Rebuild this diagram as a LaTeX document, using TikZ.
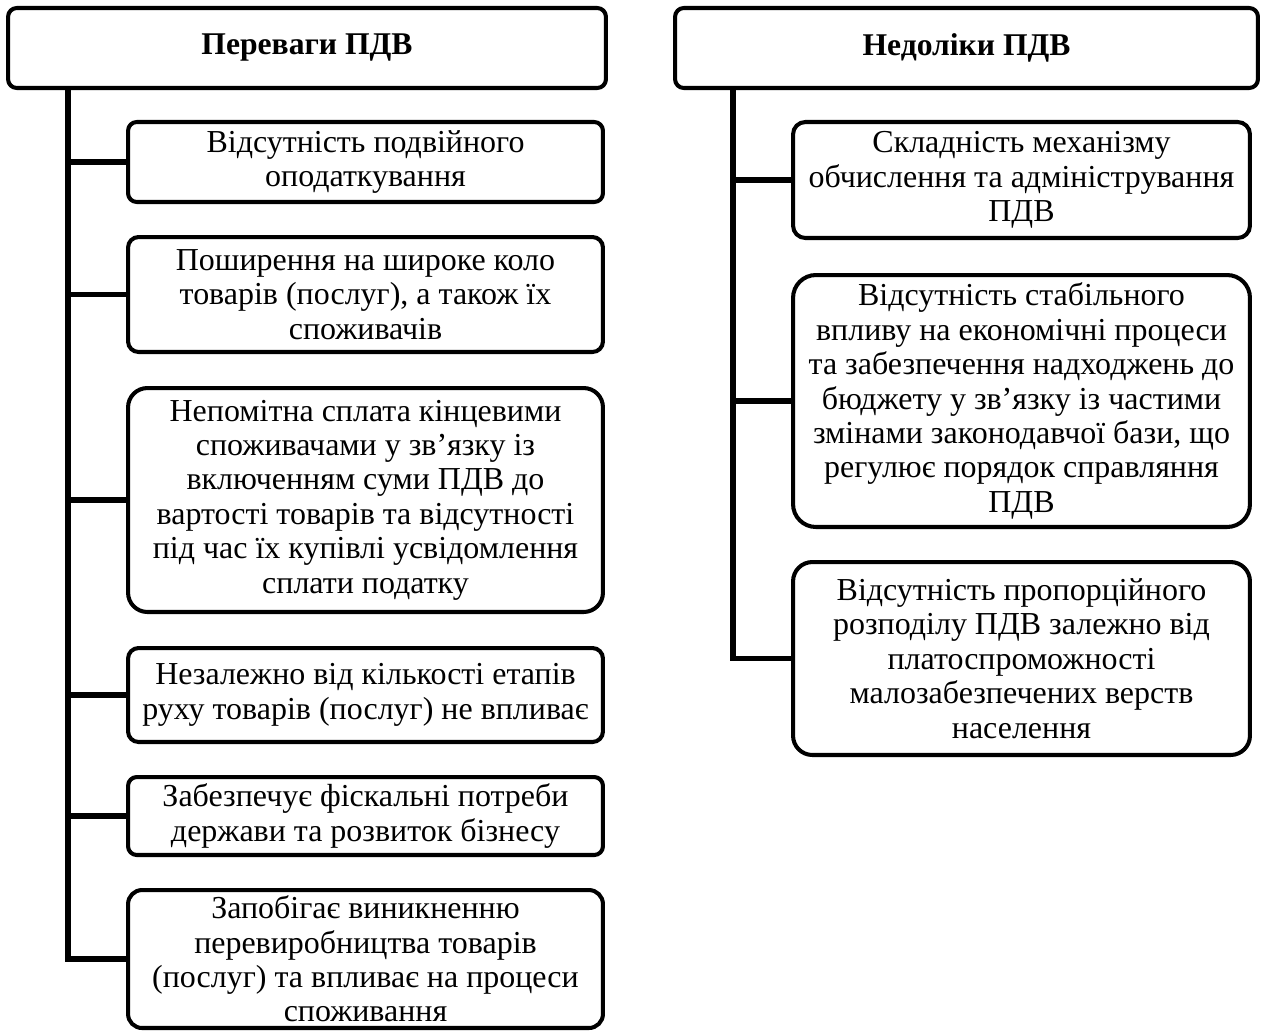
\documentclass[tikz,border=0pt]{standalone}
\usepackage{fontspec}
\setmainfont{Liberation Serif}
\begin{document}
\begin{tikzpicture}[x=0.02cm,y=-0.02cm]
    \tikzstyle{head} = [draw, line width=2.3pt, rounded corners=5pt, align=center, inner sep=2pt, font=\fontsize{18}{19.6}\selectfont\bfseries]
    \tikzstyle{box} = [draw, line width=2.3pt, rounded corners=5pt, align=center, inner sep=2pt, font=\fontsize{18.2}{19.6}\selectfont]
    \tikzstyle{link} = [line width=3pt]
    \useasboundingbox (0,0) rectangle (1263,1032);

    % Headers
    \node [head, minimum width=11.96cm, minimum height=1.6cm] (PHead) at (307,48) {Переваги ПДВ};
    \node [head, minimum width=11.66cm, minimum height=1.6cm] (NHead) at (966.5,48) {Недоліки ПДВ};

    % Left column
    \node [box, minimum width=9.5cm, minimum height=1.6cm] (P1) at (365.5,162) {Відсутність подвійного\\оподаткування};
    \node [box, minimum width=9.5cm, minimum height=2.3cm, rounded corners=6pt] (P2) at (365.5,294.5) {Поширення на широке коло\\товарів (послуг), а також їх\\споживачів};
    \node [box, minimum width=9.5cm, minimum height=4.48cm, rounded corners=11pt] (P3) at (365.5,500) {Непомітна сплата кінцевими\\споживачами у зв’язку із\\включенням суми ПДВ до\\вартості товарів та відсутності\\під час їх купівлі усвідомлення\\сплати податку};
    \node [box, minimum width=9.5cm, minimum height=1.88cm, rounded corners=6pt] (P4) at (365.5,695) {Незалежно від кількості етапів\\руху товарів (послуг) не впливає};
    \node [box, minimum width=9.5cm, minimum height=1.56cm] (P5) at (365.5,816) {Забезпечує фіскальні потреби\\держави та розвиток бізнесу};
    \node [box, minimum width=9.5cm, minimum height=2.76cm, rounded corners=8pt] (P6) at (365.5,959) {Запобігає виникненню\\перевиробництва товарів\\(послуг) та впливає на процеси\\споживання};

    % Right column
    \node [box, minimum width=9.14cm, minimum height=2.32cm, rounded corners=7pt] (N1) at (1021.5,180) {Складність механізму\\обчислення та адміністрування\\ПДВ};
    \node [box, minimum width=9.14cm, minimum height=5.04cm, rounded corners=13pt] (N2) at (1021.5,401) {Відсутність стабільного\\впливу на економічні процеси\\та забезпечення надходжень до\\бюджету у зв’язку із частими\\змінами законодавчої бази, що\\регулює порядок справляння\\ПДВ};
    \node [box, minimum width=9.14cm, minimum height=3.86cm, rounded corners=11pt] (N3) at (1021.5,658.5) {Відсутність пропорційного\\розподілу ПДВ залежно від\\платоспроможності\\малозабезпечених верств\\населення};

    % Trunks
    \coordinate (PTrunk) at ([xshift=1.24cm]PHead.south west);
    \coordinate (NTrunk) at ([xshift=1.2cm]NHead.south west);
    \draw [link] (PTrunk) |- (P6.west);
    \draw [link] (NTrunk) |- (N3.west);

    % Branches
    \foreach \n in {P1,P2,P3,P4,P5}
        \draw [link] (\n.west) -- (\n.west -| PTrunk);
    \foreach \n in {N1,N2}
        \draw [link] (\n.west) -- (\n.west -| NTrunk);
\end{tikzpicture}
\end{document}
